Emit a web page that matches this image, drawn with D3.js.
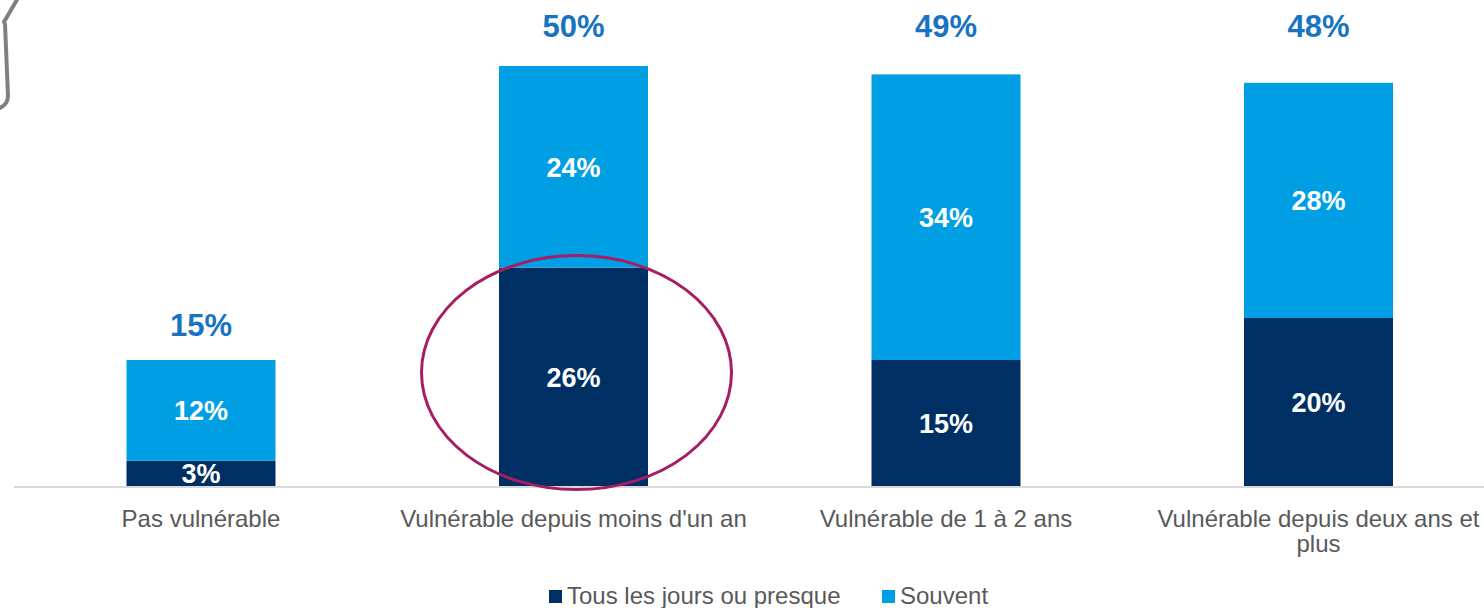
<!DOCTYPE html>
<html>
<head>
<meta charset="utf-8">
<script src="https://cdn.jsdelivr.net/npm/d3@7"></script>
<style>
  body { margin: 0; background: #fff; }
  svg { display: block; font-family: "Liberation Sans", Arial, sans-serif; }
</style>
</head>
<body>
<script>
const categories = ["Pas vulnérable", "Vulnérable depuis moins d'un an", "Vulnérable de 1 à 2 ans", "Vulnérable depuis deux ans et plus"];
const seriesNames = ["Tous les jours ou presque", "Souvent"];
const daily = [3, 26, 15, 20];
const often = [12, 24, 34, 28];
const totals = [15, 50, 49, 48];
const colors = ["#003063", "#009fe3"];

const width = 1484, height = 608;
const baseY = 486;

const svg = d3.select("body").append("svg")
    .attr("width", width)
    .attr("height", height);

let x = d3.scaleBand()
    .domain(categories)
    .range([14.75, 1504.75])
    .paddingInner(0.6)
    .paddingOuter(0.3);
let y = d3.scaleLinear()
    .domain([0, 50])
    .range([baseY, 66]);

let rows = categories.map((c, i) => ({cat: c, daily: daily[i], often: often[i], total: totals[i]}));
let stack = d3.stack().keys(["daily", "often"])(rows);

// stacked bars
let layers = svg.append("g")
  .selectAll("g")
  .data(stack)
  .enter()
  .append("g")
    .attr("fill", (d, i) => colors[i]);

layers.selectAll("rect")
  .data(d => d)
  .enter()
  .append("rect")
    .attr("x", d => x(d.data.cat))
    .attr("width", x.bandwidth())
    .attr("y", d => y(d[1]))
    .attr("height", d => y(d[0]) - y(d[1]));

// segment labels
layers.selectAll("text")
  .data(d => d)
  .enter()
  .append("text")
    .attr("x", d => x(d.data.cat) + x.bandwidth() / 2)
    .attr("y", d => (y(d[0]) + y(d[1])) / 2)
    .attr("dy", "0.36em")
    .attr("text-anchor", "middle")
    .attr("fill", "#fff")
    .attr("font-weight", "bold")
    .attr("font-size", 27)
    .text(d => (d[1] - d[0]) + "%");

// totals (the tall ones sit in a row along the top)
svg.append("g")
  .selectAll("text")
  .data(rows)
  .enter()
  .append("text")
    .attr("x", d => x(d.cat) + x.bandwidth() / 2)
    .attr("y", d => y(d.total) - 25 < 60 ? 37 : y(d.total) - 24)
    .attr("text-anchor", "middle")
    .attr("fill", "#1874c1")
    .attr("font-weight", "bold")
    .attr("font-size", 31)
    .text(d => d.total + "%");

// baseline
svg.append("line")
  .attr("x1", 14).attr("x2", 1504)
  .attr("y1", baseY + 1).attr("y2", baseY + 1)
  .attr("stroke", "#d9d9d9")
  .attr("stroke-width", 2);

// category labels, wrapped
function wrap(text, maxW) {
  text.each(function() {
    let t = d3.select(this);
    let words = t.text().split(" ");
    let line = [];
    let xPos = t.attr("x");
    let tspan = t.text(null).append("tspan").attr("x", xPos).attr("dy", 0);
    words.forEach(w => {
      line.push(w);
      tspan.text(line.join(" "));
      if (tspan.node().getComputedTextLength() > maxW && line.length > 1) {
        line.pop();
        tspan.text(line.join(" "));
        line = [w];
        tspan = t.append("tspan").attr("x", xPos).attr("dy", "1.05em").text(w);
      }
    });
  });
}

svg.append("g")
  .selectAll("text")
  .data(categories)
  .enter()
  .append("text")
    .attr("x", d => x(d) + x.bandwidth() / 2)
    .attr("y", 527)
    .attr("text-anchor", "middle")
    .attr("fill", "#595959")
    .attr("font-size", 24)
    .text(d => d)
    .call(wrap, 350);

// legend
let legend = svg.append("g").attr("transform", "translate(549,596)");
let legendX = [0, 333];
seriesNames.forEach((s, i) => {
  let g = legend.append("g").attr("transform", `translate(${legendX[i]},0)`);
  g.append("rect")
    .attr("x", 0).attr("y", -6)
    .attr("width", 13).attr("height", 13)
    .attr("fill", colors[i]);
  g.append("text")
    .attr("x", 18).attr("y", 0)
    .attr("dy", "0.35em")
    .attr("fill", "#595959")
    .attr("font-size", 24)
    .text(s);
});

// highlight ellipse around the "moins d'un an" daily segment
svg.append("ellipse")
  .attr("cx", x(categories[1]) + x.bandwidth() / 2 + 3)
  .attr("cy", y(13.5))
  .attr("rx", 155)
  .attr("ry", 117)
  .attr("fill", "none")
  .attr("stroke", "#a71d62")
  .attr("stroke-width", 3);

// grey hand-drawn mark in the corner
svg.append("path")
  .attr("d", "M18,-2 L4,22 M5,24 C6,50 7,75 8,96 C8,103 4,106 0,108")
  .attr("fill", "none")
  .attr("stroke", "#808080")
  .attr("stroke-width", 4)
  .attr("stroke-linecap", "round");
</script>
</body>
</html>
